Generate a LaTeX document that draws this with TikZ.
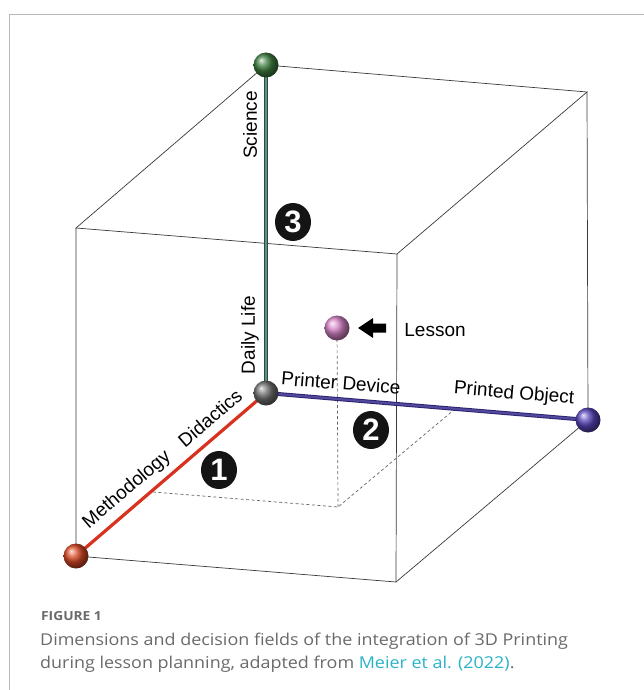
\documentclass[tikz,border=0pt]{standalone}
\usepackage{fontspec}
\setmainfont{Liberation Sans}
\newfontfamily\capfont[FakeStretch=1.1]{Open Sans}
\usetikzlibrary{calc,shapes.geometric}
\definecolor{edgegray}{HTML}{3A3A3A}
\definecolor{axred}{HTML}{D8321E}
\definecolor{axblue}{HTML}{33288A}
\definecolor{axgreen}{HTML}{4E9A88}
\definecolor{capgray}{HTML}{6A6A6A}
\definecolor{linkcol}{HTML}{2AB3C8}
\definecolor{sgreen}{HTML}{3F8040}
\definecolor{sred}{HTML}{DA4A26}
\definecolor{sblue}{HTML}{5845BA}
\definecolor{spink}{HTML}{D684C6}
\definecolor{sgray}{HTML}{707070}
\begin{document}
\begin{tikzpicture}[x=1pt,y=-1pt,
  cubeedge/.style={draw=edgegray, line width=0.7pt},
  hidden/.style={draw=gray!80!black, line width=0.7pt, dash pattern=on 3pt off 2.5pt},
  sphere/.style={circle, minimum size=25pt, inner sep=0pt},
  lbl/.style={font=\fontsize{19}{21}\selectfont, inner sep=0pt},
  numc/.style={ellipse, fill=black!92, minimum width=36pt, minimum height=38pt, inner sep=0pt, text=white, font=\fontsize{31}{31}\selectfont\bfseries},
  captext/.style={font=\capfont\fontsize{16.3}{20}\selectfont, text=capgray, anchor=base west, inner sep=0pt}
]
\useasboundingbox (0,0) rectangle (644,690);
\fill[white] (0,0) rectangle (644,690);
% frame
\draw[gray!55, line width=1pt] (9,690) -- (9,15) -- (644,15);

% cube vertices
\coordinate (O) at (266,393);
\coordinate (R) at (76,556);
\coordinate (B) at (588,420);
\coordinate (G) at (266,65);
\coordinate (FL) at (76,228);
\coordinate (TFR) at (397,254);
\coordinate (TBR) at (587,92);
\coordinate (BFR) at (396,582);
% lesson projection
\coordinate (L) at (337,328);
\coordinate (P) at (338,507);
\coordinate (PA) at (153,492);
\coordinate (PC) at (455,409);

% cube edges
\draw[cubeedge] (G) -- (TBR) -- (TFR) -- (FL) -- cycle;
\draw[cubeedge] (FL) -- (R) -- (BFR) -- (B) -- (TBR);
\draw[cubeedge] (TFR) -- (BFR);

% hidden projections
\draw[hidden] (L) -- (P);
\draw[hidden] (PA) -- (P) -- (PC);

% axes
\draw[line width=3.2pt, axred] (R) -- (O);
\draw[line width=4pt, axblue!80!black] (O) -- (B);
\draw[line width=2.2pt, axblue!85!white] (O) -- (B);
\draw[line width=3.8pt, black!75] (O) -- (G);
\draw[line width=2.2pt, axgreen] (O) -- (G);

% spheres
\node[sphere, ball color=sgreen] (sg) at (G) {};
\node[sphere, ball color=sgray] (so) at (O) {};
\node[sphere, ball color=sred] (sr) at (R) {};
\node[sphere, ball color=sblue] (sb) at (B) {};
\node[sphere, ball color=spink] (sl) at (L) {};

% lesson arrow
\fill[black] (358,328) -- (373,318) -- (373,323.5) -- (386,323.5) -- (386,332.5) -- (373,332.5) -- (373,338) -- cycle;
\node[lbl] (les) at (435,330) {Lesson};

% labels
\node[lbl, rotate=90] (sci) at (250,125) {Science};
\node[lbl, rotate=90] (dl) at (250,335) {Daily Life};
\node[lbl, rotate=40.6] (meth) at (127,490) {Methodology};
\node[lbl, rotate=40.6] (did) at (210,418) {Didactics};
\node[lbl, rotate=-4.6] (pd) at (341,383) {Printer Device};
\node[lbl, rotate=-4.8] (po) at (514,394) {Printed Object};

% numbers
\node[numc] (n3) at (293,222) {3};
\node[numc] (n2) at (371,430) {2};
\node[numc] (n1) at (219,470) {1};

% caption
\node[captext, font=\capfont\fontsize{12.5}{15}\selectfont\bfseries] (fig) at (41,620) {FIGURE 1};
\node[captext] (c1) at (40,645) {Dimensions and decision fields of the integration of 3D Printing};
\node[captext] (c2) at (40,668) {during lesson planning, adapted from \textcolor{linkcol}{Meier et al. (2022)}.};
\end{tikzpicture}
\end{document}
